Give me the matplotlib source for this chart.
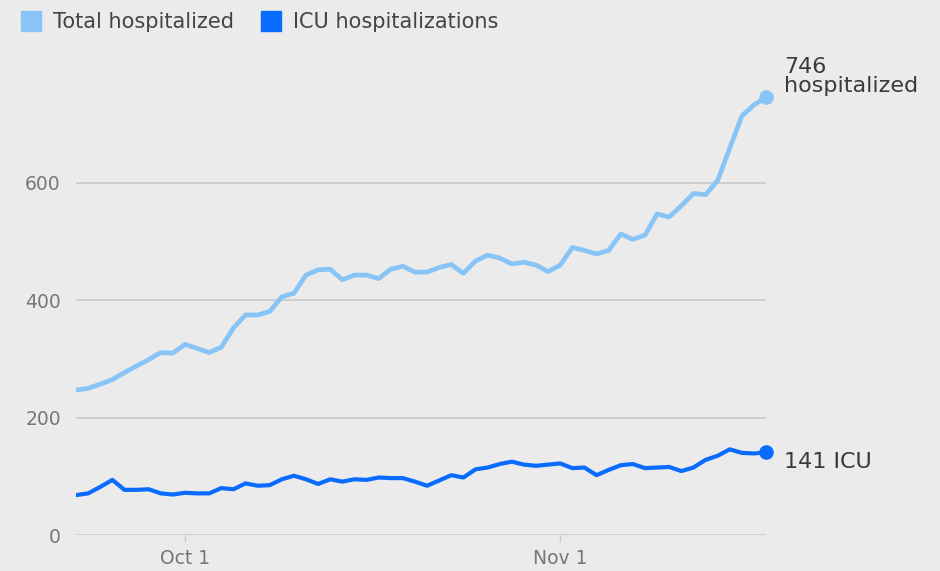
import matplotlib
matplotlib.use("Agg")
import matplotlib.pyplot as plt
import pandas as pd
from matplotlib.lines import Line2D

dates = pd.date_range("2020-09-22", "2020-11-18", freq="D")
total = [247, 250, 257, 265, 277, 288, 299, 311, 310, 325,
         318, 311, 320, 353, 375, 375, 381, 406, 412, 443,
         452, 453, 435, 443, 443, 437, 453, 458, 448, 448,
         456, 461, 446, 467, 477, 472, 462, 465, 460, 449,
         460, 490, 485, 479, 485, 513, 504, 511, 547, 542,
         561, 582, 580, 604, 659, 714, 733, 746]
icu = [68, 71, 82, 94, 77, 77, 78, 71, 69, 72,
       71, 71, 80, 78, 88, 84, 85, 95, 101, 95,
       87, 95, 91, 95, 94, 98, 97, 97, 91, 84,
       93, 102, 98, 112, 115, 121, 125, 120, 118, 120,
       122, 114, 115, 102, 111, 119, 121, 114, 115, 116,
       109, 115, 128, 135, 146, 140, 139, 141]
xtick_dates = pd.to_datetime(["2020-10-01", "2020-11-01"])
xtick_labels = ["Oct 1", "Nov 1"]
yticks = [0, 200, 400, 600]

light = "#88c5f6"
dark = "#0a6cff"
bg = "#ebebeb"

fig = plt.figure(figsize=(9.4, 5.71), dpi=100, facecolor=bg)
ax = fig.add_axes([0.0809, 0.063, 0.734, 0.781], facecolor=bg)

ax.plot(dates, total, color=light, lw=3.4, solid_capstyle="round", zorder=3)
ax.plot(dates, icu, color=dark, lw=3.0, solid_capstyle="round", zorder=4)
ax.plot(dates[-1], total[-1], "o", color=light, ms=9.5, zorder=5, clip_on=False)
ax.plot(dates[-1], icu[-1], "o", color=dark, ms=9.5, zorder=5, clip_on=False)

ax.annotate(f"{total[-1]}\nhospitalized", xy=(dates[-1], total[-1]),
            xytext=(13, 15), textcoords="offset points", ha="left", va="center",
            fontsize=16, color="#3a3a3a", linespacing=0.95, annotation_clip=False)
ax.annotate(f"{icu[-1]} ICU", xy=(dates[-1], icu[-1]),
            xytext=(13, -7), textcoords="offset points", ha="left", va="center",
            fontsize=16, color="#3a3a3a", annotation_clip=False)

ax.set_xlim(dates[0], dates[-1])
ax.set_ylim(0, 760)
ax.set_yticks(yticks)
ax.set_xticks(xtick_dates)
ax.set_xticklabels(xtick_labels)
ax.grid(axis="y", color="#c9c9c9", lw=1.2)
ax.set_axisbelow(True)
for s in ax.spines.values():
    s.set_visible(False)
ax.tick_params(axis="y", length=0, pad=11, labelsize=13.5, labelcolor="#777777")
ax.tick_params(axis="x", length=5, width=1, color="#c9c9c9", pad=5,
               labelsize=13.5, labelcolor="#777777")

handles = [Line2D([], [], marker="s", ls="", ms=14.5, color=light),
           Line2D([], [], marker="s", ls="", ms=14.5, color=dark)]
fig.legend(handles, ["Total hospitalized", "ICU hospitalizations"],
           loc="upper left", bbox_to_anchor=(0.002, 1.012), ncol=2, frameon=False,
           fontsize=15, labelcolor="#444444", handlelength=1.0,
           handletextpad=0.55, columnspacing=1.3)

fig.savefig("out.png", dpi=100, facecolor=bg)
